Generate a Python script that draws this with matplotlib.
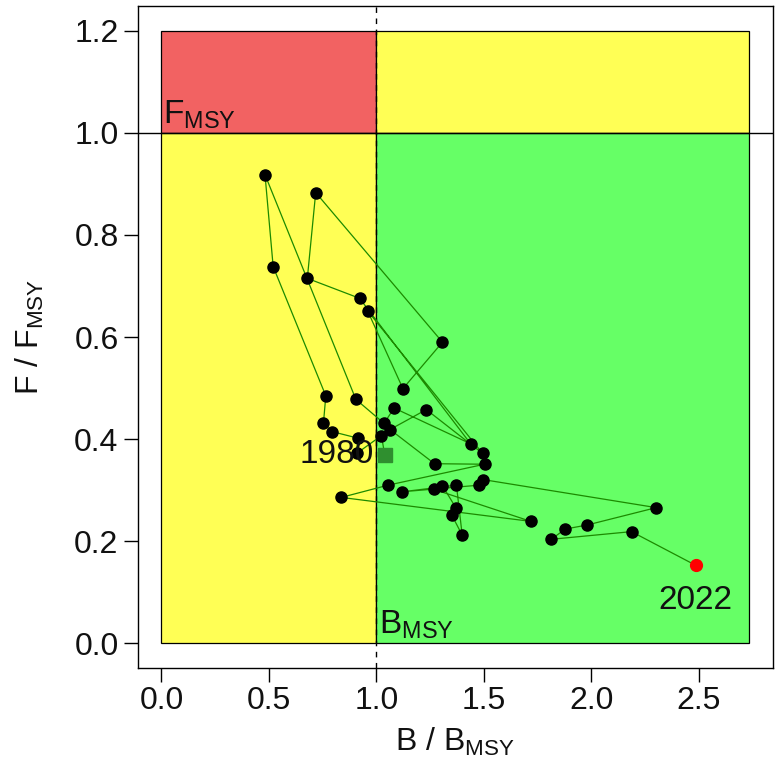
import matplotlib
matplotlib.use("Agg")
import matplotlib.pyplot as plt
from matplotlib.patches import Rectangle

plt.rcParams['font.family'] = ['Liberation Sans', 'DejaVu Sans']

# Stock trajectory: relative biomass (B/Bmsy) and fishing mortality (F/Fmsy), in time order
b_rel = [1.039, 1.024, 0.908, 0.915, 0.793, 0.754, 0.765, 0.520, 0.482, 0.905,
         1.036, 1.083, 1.439, 0.922, 0.679, 0.718, 1.308, 1.124, 0.960, 1.495,
         1.233, 1.064, 1.271, 1.504, 1.055, 0.837, 1.720, 1.267, 1.308, 1.370,
         1.352, 1.400, 1.373, 1.120, 1.479, 1.496, 2.303, 1.982, 1.879, 1.815,
         2.188, 2.487]
f_rel = [0.370, 0.407, 0.372, 0.402, 0.415, 0.431, 0.485, 0.738, 0.918, 0.478,
         0.431, 0.461, 0.391, 0.676, 0.715, 0.883, 0.590, 0.499, 0.651, 0.372,
         0.458, 0.419, 0.352, 0.351, 0.310, 0.286, 0.239, 0.302, 0.309, 0.266,
         0.251, 0.212, 0.310, 0.297, 0.310, 0.321, 0.266, 0.232, 0.224, 0.204,
         0.219, 0.153]
first_label = "1980"
last_label = "2022"

x_ticks = [0.0, 0.5, 1.0, 1.5, 2.0, 2.5]
y_ticks = [0.0, 0.2, 0.4, 0.6, 0.8, 1.0, 1.2]

x_max = 1.1 * max(b_rel)
y_max = 1.2

fig = plt.figure(figsize=(7.75, 7.74), dpi=100)
ax = fig.add_axes([0.178, 0.137, 0.819, 0.855])

red = '#f26262'
yellow = '#ffff55'
green = '#66ff66'
edge = dict(edgecolor='black', linewidth=0.9)
ax.add_patch(Rectangle((0, 1), 1, y_max - 1, facecolor=red, **edge, zorder=1))
ax.add_patch(Rectangle((1, 1), x_max - 1, y_max - 1, facecolor=yellow, **edge, zorder=1))
ax.add_patch(Rectangle((0, 0), 1, 1, facecolor=yellow, **edge, zorder=1))
ax.add_patch(Rectangle((1, 0), x_max - 1, 1, facecolor=green, **edge, zorder=1))

ax.axhline(1.0, color='black', lw=1.0, zorder=2)
ax.axvline(1.0, color='black', lw=1.0, ls=(0, (4, 4)), zorder=2)

ax.plot(b_rel, f_rel, color='#1c8a00', lw=0.9, zorder=3)
ax.plot(b_rel[1:-1], f_rel[1:-1], 'o', color='black', ms=8, zorder=4)
ax.plot(b_rel[0], f_rel[0], 's', color='#2f8f2f', ms=10, zorder=5)
ax.plot(b_rel[-1], f_rel[-1], 'o', color='red', ms=8.5, zorder=5)

ax.annotate(first_label, (b_rel[0], f_rel[0]), xytext=(-8, 0), textcoords='offset points',
            ha='right', va='center', fontsize=24, color='#111111', zorder=6)
ax.annotate(last_label, (b_rel[-1], f_rel[-1]), xytext=(0, -14), textcoords='offset points',
            ha='center', va='top', fontsize=24, color='#111111', zorder=6)

ax.text(0.005, 1.004, r'F$_{\mathregular{MSY}}$', ha='left', va='bottom', fontsize=24, color='#111111', zorder=6)
ax.text(1.012, 0.004, r'B$_{\mathregular{MSY}}$', ha='left', va='bottom', fontsize=24, color='#111111', zorder=6)

ax.set_xlim(-0.04 * x_max, 1.04 * x_max)
ax.set_ylim(-0.04 * y_max, 1.04 * y_max)
ax.set_xticks(x_ticks)
ax.set_yticks(y_ticks)
ax.set_xticklabels([f"{v:.1f}" for v in x_ticks])
ax.set_yticklabels([f"{v:.1f}" for v in y_ticks])
ax.tick_params(direction='out', length=10, width=1, labelsize=23, labelcolor='#111111')
ax.tick_params(axis='x', pad=3)
ax.tick_params(axis='y', pad=4)
for s in ax.spines.values():
    s.set_linewidth(1.0)

ax.set_xlabel(r'B / B$_{\mathregular{MSY}}$', fontsize=23, color='#111111')
ax.set_ylabel(r'F / F$_{\mathregular{MSY}}$', fontsize=23, color='#111111')
ax.xaxis.set_label_coords(0.5, -0.087)
ax.yaxis.set_label_coords(-0.145, 0.5)

fig.savefig('out.png', dpi=100)
